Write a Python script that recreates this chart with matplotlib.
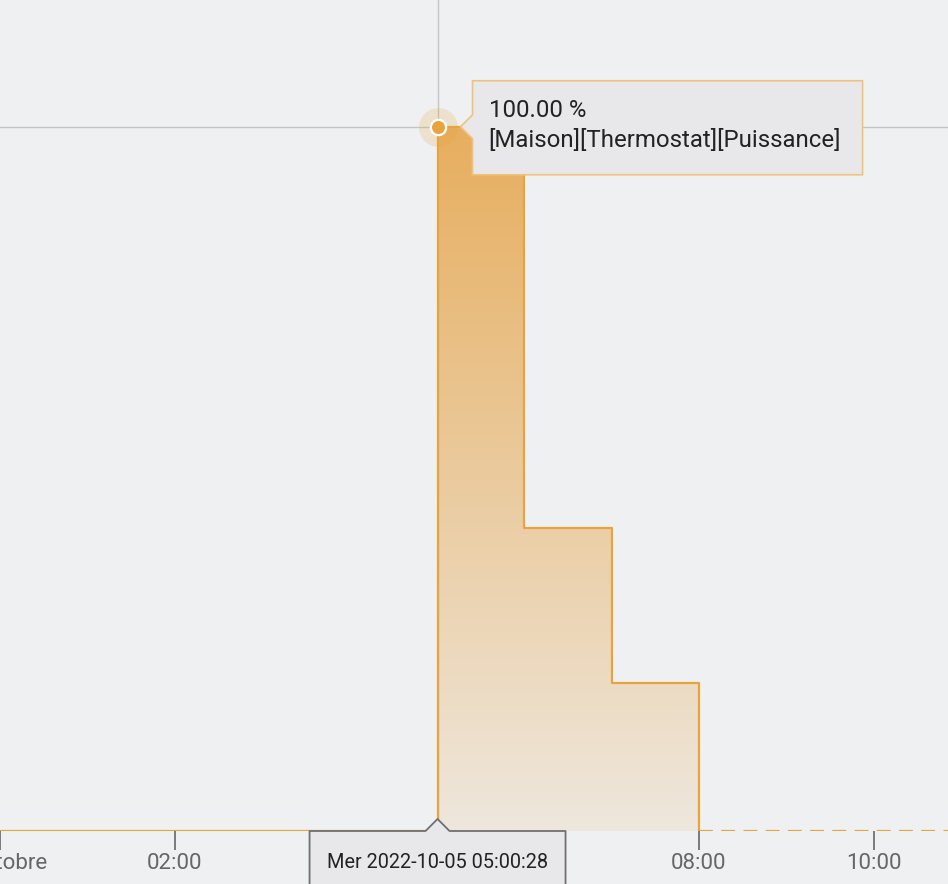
import numpy as np
import pandas as pd
import matplotlib
matplotlib.use("Agg")
import matplotlib.pyplot as plt
import matplotlib.dates as mdates
from matplotlib.patches import Polygon

plt.rcParams['font.family'] = ['Roboto', 'DejaVu Sans']
plt.rcParams['lines.scale_dashes'] = False

# data
times = pd.to_datetime(["2022-10-05 00:00:00", "2022-10-05 05:00:28",
                        "2022-10-05 06:00:00", "2022-10-05 07:00:00",
                        "2022-10-05 08:00:00"])
values = [0, 100, 43, 21, 0]
future_times = pd.to_datetime(["2022-10-05 08:00:00", "2022-10-05 11:00:00"])
future_values = [0, 0]
hover_time = pd.Timestamp("2022-10-05 05:00:28")
hover_value = 100
tick_times = pd.to_datetime(["2022-10-05 00:00", "2022-10-05 02:00", "2022-10-05 04:00",
                             "2022-10-05 06:00", "2022-10-05 08:00", "2022-10-05 10:00"])
tick_labels = ["5 octobre", "02:00", "04:00", "06:00", "08:00", "10:00"]
tooltip_value = "100.00 %"
tooltip_name = "[Maison][Thermostat][Puissance]"
tooltip_date = "Mer 2022-10-05 05:00:28"

bg = '#eff0f2'
orange = '#e8a33d'

W, H = 948, 884
fig = plt.figure(figsize=(W / 100, H / 100), dpi=100, facecolor=bg)
ax = fig.add_axes([0, 53 / H, 1, 831 / H])
ax.set_facecolor(bg)
for s in ax.spines.values():
    s.set_visible(False)

xl = (mdates.date2num(pd.Timestamp("2022-10-05 00:03:11")),
      mdates.date2num(pd.Timestamp("2022-10-05 10:51:00")))

# gradient fill under the step line
poly = ax.fill_between(times, values, step='post', color='none', lw=0)
grad = np.linspace(1, 0, 256)[:, None]
top = np.array(matplotlib.colors.to_rgb('#e7ae5e'))
bot = np.array(matplotlib.colors.to_rgb('#eee7dd'))
img = bot + (top - bot) * grad[..., None]
im = ax.imshow(img, extent=[xl[0], xl[1], 0, 100], aspect='auto', zorder=1, interpolation='bilinear')
im.set_clip_path(poly.get_paths()[0], transform=ax.transData)

ax.step(times, values, where='post', color=orange, lw=1.6, zorder=3)
ax.plot(future_times, future_values, color=orange, lw=1.6, dashes=(10, 6), zorder=3)

# crosshair
ax.axvline(hover_time, color='#c4c4c4', lw=1, zorder=2)
ax.axhline(hover_value, color='#c4c4c4', lw=1, zorder=2)
ax.plot([hover_time], [hover_value], 'o', ms=28, color=orange, alpha=0.2, mew=0, zorder=4)
ax.plot([hover_time], [hover_value], 'o', ms=11, color=orange, mec='white', mew=1.6, zorder=5)

ax.set_xlim(xl)
ax.set_ylim(0, 118)

ax.set_xticks(mdates.date2num(tick_times))
ax.set_xticklabels(tick_labels)
ax.set_yticks([])
ax.tick_params(axis='x', length=14, width=1.2, color='#666666', labelcolor='#666666',
               labelsize=16, pad=1.5)
# these two labels sit under the date tooltip
for lab in ax.get_xticklabels()[2:4]:
    lab.set_visible(False)

# tooltips, placed in pixels relative to the hovered point
fig.canvas.draw()
px, py = ax.transData.transform((mdates.date2num(hover_time), hover_value))
bx, by = ax.transData.transform((mdates.date2num(hover_time), 0))

l, r, t, b = px + 35, px + 425, py + 46, py - 48
pts = [(px + 23, py), (l, py + 12), (l, t), (r, t), (r, b), (l, b), (l, py - 12)]
fig.patches.append(Polygon(pts, closed=True, transform=None, facecolor='#e8e8ea',
                           edgecolor='#efc37e', lw=1.2, zorder=6, joinstyle='round'))
fig.text((l + 16) / W, (py + 16) / H, tooltip_value, fontsize=17.3, color='#222222',
         va='center', ha='left', zorder=7)
fig.text((l + 16) / W, (py - 14) / H, tooltip_name, fontsize=17.3, color='#222222',
         va='center', ha='left', zorder=7)

l2, r2, t2 = bx - 128, bx + 128, by
pts2 = [(bx, t2 + 12), (bx + 12, t2), (r2, t2), (r2, -10), (l2, -10), (l2, t2), (bx - 12, t2)]
fig.patches.append(Polygon(pts2, closed=True, transform=None, facecolor='#e8e8ea',
                           edgecolor='#707070', lw=1.3, zorder=6, joinstyle='round'))
fig.text(bx / W, (by - 32) / H, tooltip_date, fontsize=14.3, color='#222222',
         va='center', ha='center', zorder=7)

fig.savefig("out.png", dpi=100, facecolor=bg)
